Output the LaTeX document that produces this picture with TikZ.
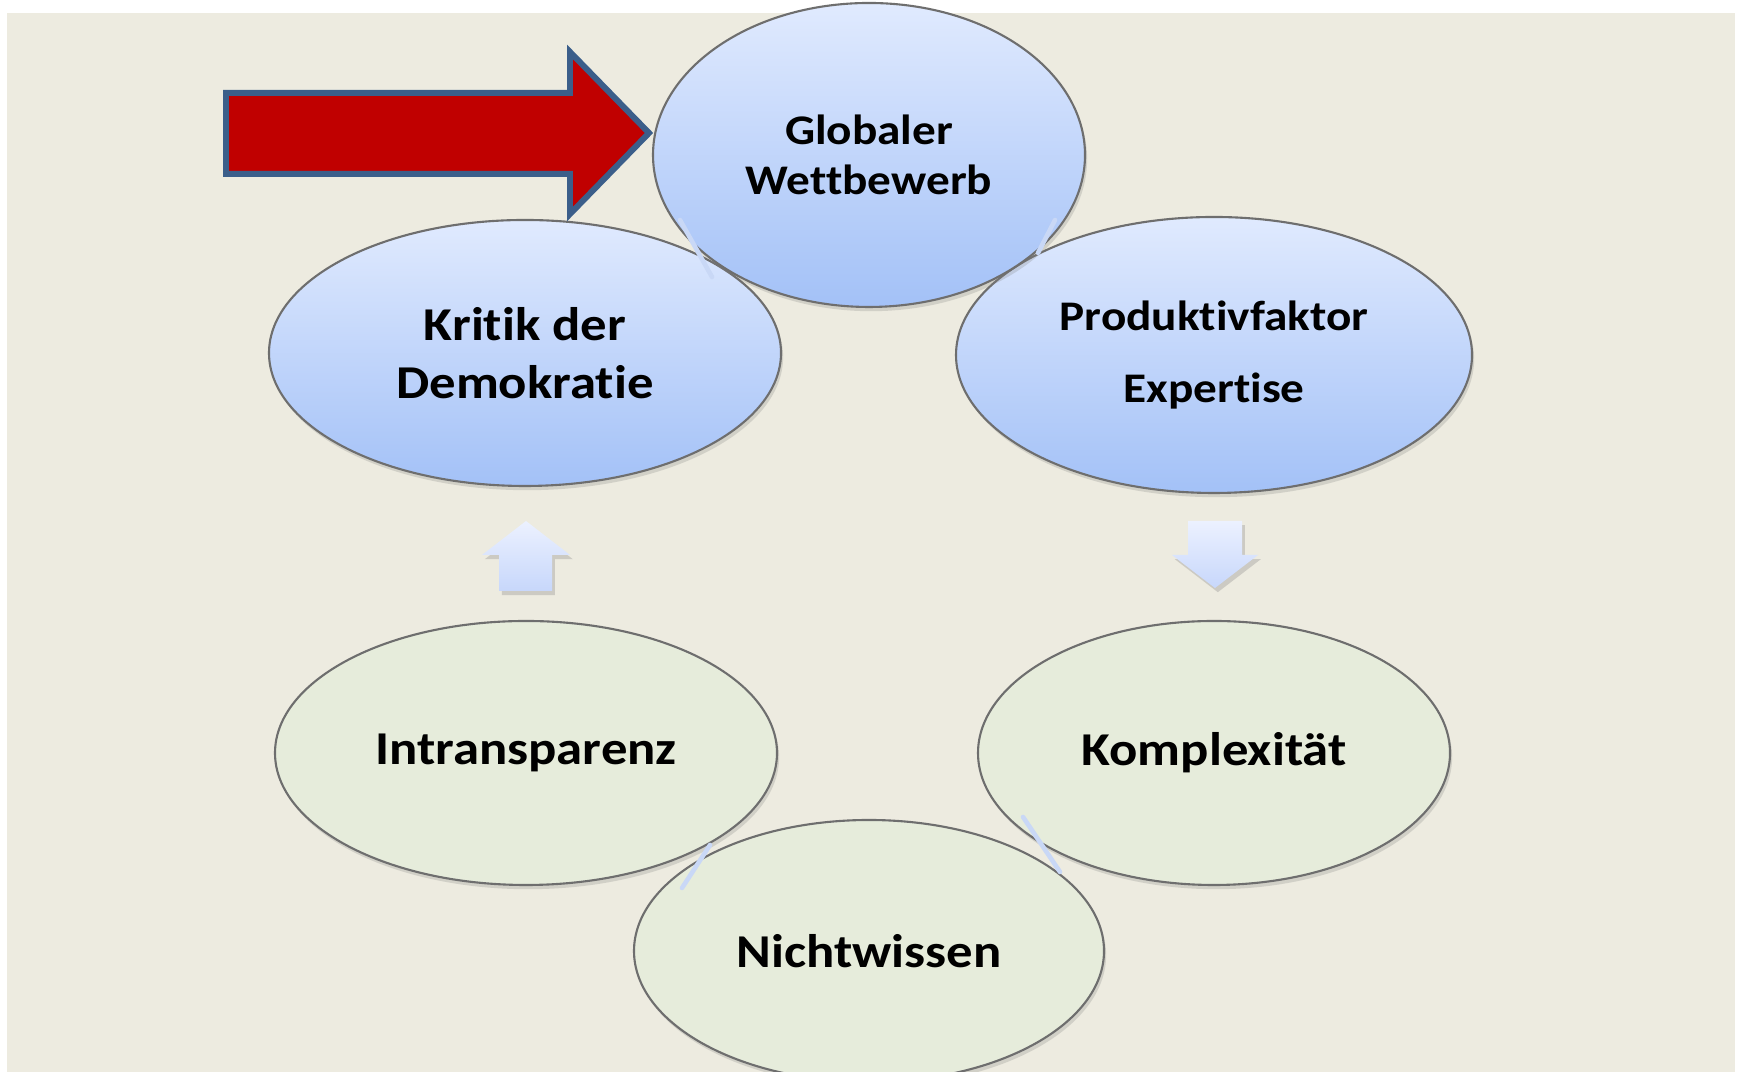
\documentclass[tikz,border=0pt]{standalone}
\usepackage{fontspec}
\setmainfont{Carlito}[FakeStretch=1.12, Ligatures=NoCommon]
\usepackage{xcolor}
\usepackage{tikz}
\usetikzlibrary{positioning,calc,shapes,shadows}
\definecolor{bg}{HTML}{EDEBE0}
\definecolor{blueTop}{HTML}{E0EAFE}
\definecolor{blueBot}{HTML}{A3C1F7}
\definecolor{greenFill}{HTML}{E6ECDB}
\definecolor{rim}{HTML}{6E6E6E}
\definecolor{redFill}{HTML}{C00000}
\definecolor{redRim}{HTML}{3B5E8A}
\definecolor{tipTop}{HTML}{ECF1FF}
\definecolor{tipBot}{HTML}{C7D7FB}
\definecolor{glintcol}{HTML}{C9D8F6}
\tikzstyle{blob}= [ellipse, draw=rim, line width=0.6pt, inner sep=0pt, align=center, drop shadow={opacity=0.25,shadow xshift=0.6pt,shadow yshift=-1.2pt}]
\tikzstyle{bluenod}= [blob, top color=blueTop, bottom color=blueBot]
\tikzstyle{greennod}= [blob, fill=greenFill]
\tikzstyle{bigtxt}= [font={\fontsize{13.4}{16.4}\selectfont\bfseries}]
\tikzstyle{smalltxt}= [font={\fontsize{12}{14.2}\selectfont\bfseries}]
\tikzstyle{blockarr}= [top color=tipTop, bottom color=tipBot, drop shadow={opacity=0.3,shadow xshift=0.8pt,shadow yshift=-1.2pt}]
\tikzstyle{glint}= [line width=1.3pt, glintcol, line cap=round]

\begin{document}
\begin{tikzpicture}
				\useasboundingbox (0,0) rectangle (17.39,10.72);
				\fill[bg] (0.07,0) rectangle (17.35,10.59);
				% the six ellipses
				\node[bluenod, bigtxt, minimum width=5.12cm, minimum height=2.66cm] (kritik) at (5.25, 7.19) {Kritik der\\Demokratie};
				\node[bluenod, smalltxt, font={\fontsize{12}{20.5}\selectfont\bfseries}, minimum width=5.16cm, minimum height=2.76cm] (prod) at (12.14, 7.17) {Produktivfaktor\\Expertise};
				\node[greennod, bigtxt, minimum width=5.02cm, minimum height=2.64cm] (intr) at (5.26, 3.19) {Intransparenz};
				\node[greennod, bigtxt, minimum width=4.72cm, minimum height=2.64cm] (kompl) at (12.14, 3.19) {Komplexität};
				\node[bluenod, smalltxt, minimum width=4.32cm, minimum height=3.04cm] (glob) at (8.69, 9.17) {Globaler\\Wettbewerb};
				\node[greennod, bigtxt, minimum width=4.70cm, minimum height=2.62cm] (nicht) at (8.69, 1.21) {Nichtwissen};
				% faint connector marks
				\coordinate (g1) at (6.80, 8.52);
				\coordinate (g2) at (7.12, 7.95);
				\coordinate (g3) at (10.55, 8.52);
				\coordinate (g4) at (10.38, 8.19);
				\coordinate (g5) at (7.10, 2.27);
				\coordinate (g6) at (6.82, 1.84);
				\coordinate (g7) at (10.23, 2.55);
				\coordinate (g8) at (10.60, 2.00);
				\draw[glint] (g1) -- (g2);
				\draw[glint] (g3) -- (g4);
				\draw[glint] (g5) -- (g6);
				\draw[glint] (g7) -- (g8);
				% block arrows
				\path[blockarr] (5.26,5.51) -- (5.70,5.17) -- (5.52,5.17) -- (5.52,4.81) -- (4.99,4.81) -- (4.99,5.17) -- (4.82,5.17) -- cycle;
				\path[blockarr] (11.88,5.51) -- (12.42,5.51) -- (12.42,5.17) -- (12.58,5.17) -- (12.15,4.84) -- (11.72,5.17) -- (11.88,5.17) -- cycle;
				% red arrow
				\draw[redRim, fill=redFill, line width=1.7pt, line join=miter] (2.26,9.79) -- (5.70,9.79) -- (5.70,10.20) -- (6.49,9.39) -- (5.70,8.58) -- (5.70,8.98) -- (2.26,8.98) -- cycle;
			\end{tikzpicture}
\end{document}
